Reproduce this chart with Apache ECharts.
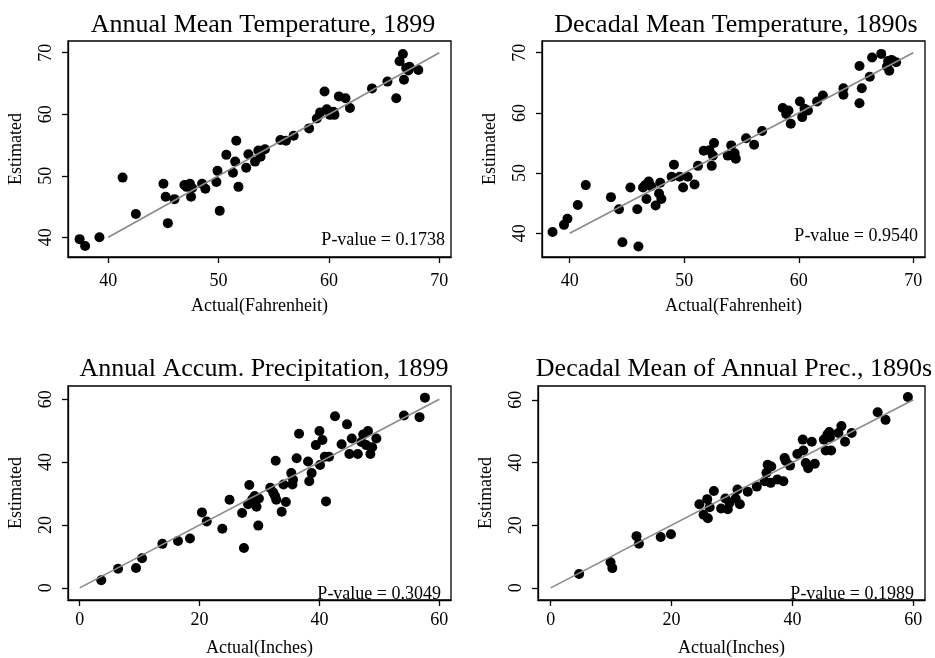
<!DOCTYPE html>
<html>
<head>
<meta charset="utf-8">
<title>Estimated vs Actual</title>
<script src="https://cdn.jsdelivr.net/npm/echarts@6/dist/echarts.min.js"></script>
<style>
html,body{margin:0;padding:0;background:#fff;}
#container{width:935px;height:658px;}
</style>
</head>
<body>
<div id="container"></div>
<script>
// panel titles, axis names, p-values
var titles = ['Annual Mean Temperature, 1899', 'Decadal Mean Temperature, 1890s',
	'Annual Accum. Precipitation, 1899', 'Decadal Mean of Annual Prec., 1890s'];
var xNames = ['Actual(Fahrenheit)', 'Actual(Fahrenheit)', 'Actual(Inches)', 'Actual(Inches)'];
var pValues = ['0.1738', '0.9540', '0.3049', '0.1989'];
var tempTicks = [40, 50, 60, 70];
var precTicks = [0, 20, 40, 60];

// annual mean temperature 1899
var annTempActual = [37.4, 37.9, 39.2, 41.3, 42.5, 45.0, 45.2, 45.4, 46.0, 46.9, 47.1, 47.4, 47.6, 47.5, 48.5, 48.8,
	49.8, 49.9, 50.1, 50.7, 51.3, 51.5, 51.6, 51.8, 52.5, 52.7, 53.3, 53.6, 53.8, 54.2, 55.6, 56.1, 56.8, 58.2,
	58.9, 59.2, 59.6, 59.8, 60.1, 60.4, 60.5, 60.9, 61.5, 61.9, 63.9, 65.3, 66.1, 66.4, 66.7, 66.8, 67.0, 67.2,
	68.1, 67.3];
var annTempEst = [39.7, 38.6, 40.0, 49.7, 43.8, 48.7, 46.6, 42.3, 46.2, 48.5, 48.2, 48.7, 48.0, 46.6, 48.7, 47.9,
	49.0, 50.8, 44.3, 53.4, 50.5, 52.3, 55.7, 48.2, 51.3, 53.5, 52.3, 54.1, 53.1, 54.3, 55.8, 55.7, 56.5, 57.7,
	59.3, 60.3, 63.7, 60.8, 59.9, 60.4, 59.9, 62.9, 62.6, 61.0, 64.2, 65.3, 62.6, 68.6, 69.8, 65.6, 67.5, 67.1,
	67.2, 67.7];

// decadal mean temperature 1890s
var decTempActual = [38.5, 39.5, 39.8, 40.7, 41.4, 43.6, 44.3, 44.6, 45.3, 45.9, 46.0, 46.4, 46.6, 46.7, 46.9, 47.1,
	47.5, 47.8, 47.9, 48.0, 48.9, 49.1, 49.6, 49.9, 50.3, 50.9, 51.2, 51.7, 52.2, 52.4, 52.6, 52.5, 53.8, 54.1,
	54.5, 54.4, 55.4, 56.1, 56.8, 58.6, 58.9, 59.1, 59.3, 60.1, 60.3, 60.5, 60.8, 61.6, 62.1, 63.9, 63.9, 65.3,
	65.3, 65.5, 66.2, 66.4, 67.2, 67.8, 67.9, 68.1, 68.5, 67.7];
var decTempEst = [40.2, 41.4, 42.4, 44.7, 48.0, 46.0, 44.0, 38.5, 47.6, 44.0, 37.8, 47.6, 48.0, 45.7, 48.6, 47.8,
	44.6, 46.6, 48.4, 45.7, 49.4, 51.4, 49.4, 47.6, 49.4, 48.1, 51.2, 53.7, 53.8, 51.2, 55.0, 52.9, 52.9, 54.6,
	52.4, 53.3, 55.8, 54.7, 57.0, 60.8, 59.8, 60.4, 58.2, 61.9, 59.3, 60.7, 60.4, 61.9, 62.9, 64.1, 63.0, 67.8,
	61.6, 64.1, 66.0, 69.2, 69.8, 68.6, 67.0, 68.8, 68.4, 67.7];

// annual accumulated precipitation 1899
var annPrecActual = [3.6, 6.4, 9.4, 10.4, 13.8, 16.4, 18.4, 20.4, 21.2, 23.8, 25.0, 27.1, 27.4, 28.1, 28.3, 28.8,
	29.2, 29.5, 29.8, 29.9, 31.8, 32.3, 32.6, 32.7, 32.8, 33.7, 34.0, 34.4, 35.3, 35.5, 35.6, 36.2, 36.6, 38.1,
	38.3, 38.7, 39.4, 40.0, 40.1, 40.5, 41.1, 40.9, 41.6, 42.6, 43.7, 44.6, 45.0, 45.4, 46.4, 47.0, 47.3, 47.8,
	48.1, 48.5, 48.8, 49.5, 54.1, 56.7, 57.6];
var annPrecEst = [2.4, 6.1, 6.3, 9.4, 14.0, 14.9, 15.7, 24.0, 21.1, 18.8, 28.0, 23.8, 12.7, 26.6, 32.7, 28.2,
	29.2, 25.8, 19.8, 28.4, 31.8, 30.3, 29.2, 40.4, 28.0, 24.2, 32.9, 27.3, 36.5, 32.9, 34.4, 41.2, 49.0, 40.2,
	33.9, 36.5, 45.4, 49.9, 39.1, 47.0, 27.5, 41.7, 41.7, 54.6, 45.7, 52.0, 42.6, 47.5, 42.6, 46.4, 48.8, 45.4,
	49.9, 42.6, 44.7, 47.5, 54.8, 54.3, 60.5];

// decadal mean of annual precipitation 1890s
var decPrecActual = [4.7, 9.9, 10.2, 14.2, 14.6, 18.2, 19.9, 24.6, 25.3, 25.9, 26.0, 26.3, 27.0, 28.2, 28.9, 29.3,
	29.6, 30.6, 30.9, 31.3, 32.6, 34.1, 35.4, 35.7, 35.9, 36.4, 36.5, 37.5, 38.5, 38.7, 38.9, 39.6, 40.8, 41.7,
	41.8, 42.2, 42.6, 43.2, 43.7, 45.2, 45.5, 45.8, 46.4, 47.6, 48.1, 48.7, 49.8, 54.1, 55.4, 59.1, 46.2, 46.1];
var decPrecEst = [4.4, 8.2, 6.3, 16.5, 14.1, 16.2, 17.1, 26.7, 23.3, 28.3, 22.2, 25.7, 30.9, 25.3, 28.5, 25.1,
	27.2, 28.5, 31.4, 26.7, 30.7, 32.3, 34.0, 36.7, 39.3, 33.5, 38.7, 34.6, 34.0, 41.4, 40.5, 39.0, 42.7, 47.3,
	43.8, 39.8, 38.2, 46.6, 39.6, 47.3, 43.8, 49.0, 43.8, 49.4, 51.6, 46.6, 49.4, 56.0, 53.6, 60.9, 48.0, 49.7];

var fitTemp = [[40, 40], [70, 70]];
var fitPrec = [[0, 0], [60, 60]];

function pairs(xs, ys) {
	var out = [];
	for (var i = 0; i < xs.length; i++) {
		out.push([xs[i], ys[i]]);
	}
	return out;
}

var serif = 'Liberation Serif';
var grids = [
	{left: 68, top: 41, width: 383, height: 216},
	{left: 542, top: 41, width: 383, height: 216},
	{left: 68, top: 386, width: 383, height: 218},
	{left: 538, top: 386, width: 387, height: 218}
];
var xRanges = [[36.35, 71.06], [37.58, 71.02], [-1.95, 61.95], [-2.1, 61.93]];
var yRanges = [[36.8, 71.9], [36.06, 71.94], [-3.86, 64.2], [-3.87, 64.4]];
var ticks = [tempTicks, tempTicks, precTicks, precTicks];
var points = [pairs(annTempActual, annTempEst), pairs(decTempActual, decTempEst),
	pairs(annPrecActual, annPrecEst), pairs(decPrecActual, decPrecEst)];
var fits = [fitTemp, fitTemp, fitPrec, fitPrec];
var titlePos = [[263, 12], [736, 12], [264, 356], [734, 356]];
var pPos = [[490, 231], [17, 227], [494, 585], [21, 585]];
var xLabelMargin = [15, 15, 11, 11];
var xNameGap = [40, 40, 39, 39];

var option = {
	backgroundColor: '#fff',
	animation: false,
	title: [],
	grid: [],
	xAxis: [],
	yAxis: [],
	series: []
};

for (var k = 0; k < 4; k++) {
	option.grid.push({
		left: grids[k].left, top: grids[k].top, width: grids[k].width, height: grids[k].height,
		show: true, borderColor: '#000', borderWidth: 1.3, backgroundColor: '#fff'
	});
	option.title.push({
		text: titles[k],
		left: titlePos[k][0], top: titlePos[k][1], textAlign: 'center', padding: 0,
		textStyle: {fontFamily: serif, fontSize: 26, fontWeight: 'normal', color: '#000'}
	});
	option.title.push({
		text: 'P-value = ' + pValues[k],
		right: pPos[k][0], top: pPos[k][1], padding: 0,
		textStyle: {fontFamily: serif, fontSize: 18, fontWeight: 'normal', color: '#000'}
	});
	option.xAxis.push({
		type: 'value', gridIndex: k, min: xRanges[k][0], max: xRanges[k][1],
		name: xNames[k], nameLocation: 'middle', nameGap: xNameGap[k],
		nameTextStyle: {fontFamily: serif, fontSize: 18, color: '#000'},
		axisLine: {show: true, onZero: false, lineStyle: {color: '#000', width: 1.3}},
		axisTick: {show: true, length: 6, customValues: ticks[k], lineStyle: {color: '#000', width: 1.3}},
		axisLabel: {customValues: ticks[k], margin: xLabelMargin[k], fontFamily: serif, fontSize: 18, color: '#000'},
		splitLine: {show: false}
	});
	option.yAxis.push({
		type: 'value', gridIndex: k, min: yRanges[k][0], max: yRanges[k][1],
		name: 'Estimated', nameLocation: 'middle', nameGap: 43, nameRotate: 90,
		nameTextStyle: {fontFamily: serif, fontSize: 18, color: '#000'},
		axisLine: {show: true, onZero: false, lineStyle: {color: '#000', width: 1.3}},
		axisTick: {show: true, length: 6, customValues: ticks[k], lineStyle: {color: '#000', width: 1.3}},
		axisLabel: {customValues: ticks[k], rotate: 90, margin: 13, fontFamily: serif, fontSize: 18, color: '#000'},
		splitLine: {show: false}
	});
	option.series.push({
		type: 'scatter', xAxisIndex: k, yAxisIndex: k,
		data: points[k], symbolSize: 10,
		itemStyle: {color: '#000', opacity: 1},
		z: 2
	});
	option.series.push({
		type: 'line', xAxisIndex: k, yAxisIndex: k,
		data: fits[k], symbol: 'none',
		lineStyle: {color: '#8a8a8a', width: 1.6},
		z: 3
	});
}

var dom = document.getElementById('container');
var myChart = echarts.init(dom);
myChart.setOption(option, true);
</script>
</body>
</html>
